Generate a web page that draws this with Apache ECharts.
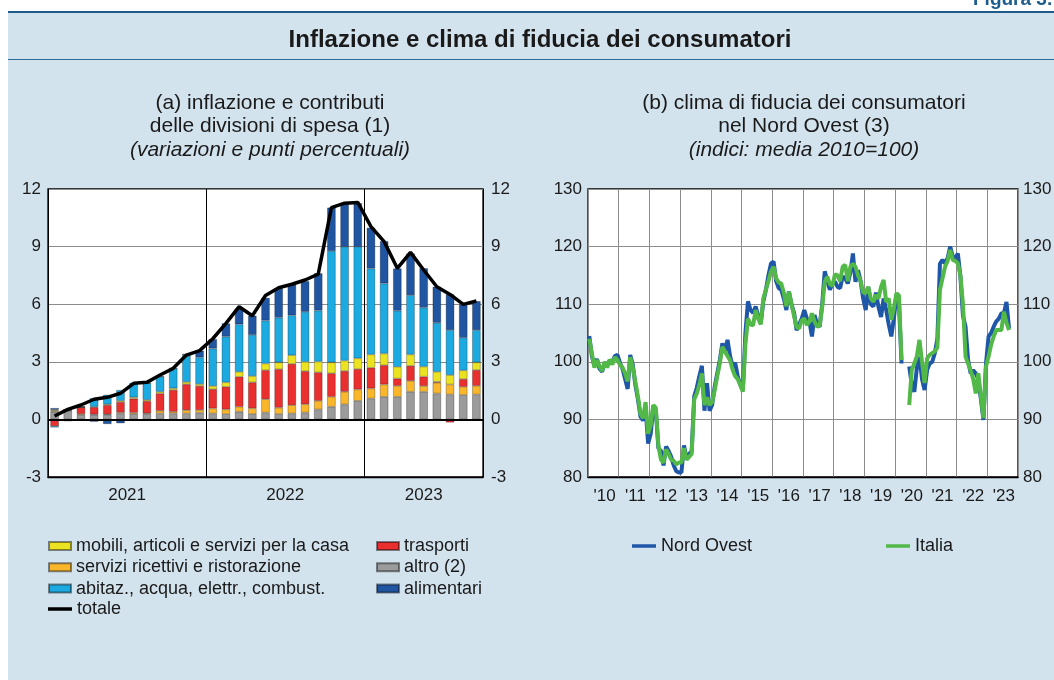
<!DOCTYPE html>
<html>
<head>
<meta charset="utf-8">
<script src="https://cdn.jsdelivr.net/npm/echarts@6/dist/echarts.min.js"></script>
<style>
  html, body { margin: 0; padding: 0; background: #fff; }
  #panel { position: absolute; left: 8px; top: 11px; width: 1046px; height: 669px; background: #d3e3ee; border-top: 2px solid #1d5b8c; box-sizing: border-box; }
  #rule { position: absolute; left: 8px; top: 59px; width: 1046px; height: 1px; background: #2b6b98; }
  #chart { position: absolute; left: 0; top: 0; width: 1054px; height: 680px; }
</style>
</head>
<body>
<div id="panel"></div>
<div id="rule"></div>
<div id="chart"></div>
<script>
// (a) contributions by spending division, Jan 2021 - Sep 2023
const monthsA = [
  "2021-01", "2021-02", "2021-03", "2021-04", "2021-05", "2021-06", "2021-07", "2021-08", "2021-09", "2021-10", "2021-11", "2021-12",
  "2022-01", "2022-02", "2022-03", "2022-04", "2022-05", "2022-06", "2022-07", "2022-08", "2022-09", "2022-10", "2022-11", "2022-12",
  "2023-01", "2023-02", "2023-03", "2023-04", "2023-05", "2023-06", "2023-07", "2023-08", "2023-09"
];
const altro = [
  0.40, 0.45, 0.23, 0.23, 0.24, 0.31, 0.28, 0.28, 0.31, 0.31, 0.31, 0.35,
  0.31, 0.28, 0.40, 0.28, 0.36, 0.28, 0.31, 0.36, 0.52, 0.66, 0.78, 0.97,
  1.09, 1.18, 1.18, 1.44, 1.44, 1.35, 1.30, 1.27, 1.30
];
const servizi = [
  0.05, 0.03, 0.05, 0.03, 0.03, 0.05, 0.07, 0.04, 0.14, 0.09, 0.17, 0.14,
  0.26, 0.24, 0.26, 0.30, 0.69, 0.33, 0.43, 0.43, 0.45, 0.52, 0.66, 0.59,
  0.52, 0.64, 0.57, 0.57, 0.30, 0.56, 0.52, 0.43, 0.45
];
const trasporti = [
  -0.35, 0.03, 0.35, 0.37, 0.47, 0.54, 0.73, 0.63, 0.90, 1.13, 1.35, 1.25,
  1.00, 1.18, 1.56, 1.35, 1.51, 2.00, 2.15, 1.72, 1.48, 1.22, 1.08, 1.06,
  1.08, 1.00, 0.38, 0.78, 0.49, 0.05, -0.16, 0.40, 0.82
];
const mobili = [
  0.05, 0.00, 0.02, 0.03, 0.05, 0.07, 0.07, 0.07, 0.09, 0.09, 0.12, 0.10,
  0.17, 0.23, 0.26, 0.33, 0.35, 0.36, 0.45, 0.49, 0.56, 0.57, 0.54, 0.56,
  0.69, 0.61, 0.61, 0.59, 0.52, 0.52, 0.49, 0.45, 0.40
];
const abitazione = [
  -0.07, 0.00, 0.00, 0.45, 0.49, 0.56, 0.76, 0.87, 0.78, 1.04, 1.44, 1.39,
  1.95, 2.38, 2.47, 2.14, 2.24, 2.33, 2.08, 2.60, 2.66, 5.80, 5.94, 5.82,
  4.48, 3.65, 2.92, 3.09, 3.07, 2.55, 2.34, 1.70, 1.68
];
const alimentari = [
  0.09, -0.10, 0.00, -0.12, -0.24, -0.20, -0.07, 0.00, 0.05, 0.00, 0.00, 0.35,
  0.49, 0.69, 0.83, 1.00, 1.18, 1.53, 1.60, 1.60, 1.94, 2.26, 2.20, 2.26,
  2.12, 2.20, 2.20, 2.17, 2.05, 1.88, 1.86, 1.74, 1.51
];
const totale = [
  0.18, 0.52, 0.75, 1.05, 1.15, 1.36, 1.88, 1.93, 2.31, 2.66, 3.35, 3.58,
  4.20, 5.00, 5.87, 5.40, 6.45, 6.86, 7.04, 7.26, 7.57, 11.03, 11.26, 11.30,
  10.04, 9.26, 7.87, 8.70, 7.78, 6.91, 6.51, 5.99, 6.17
];
// year labels of panel (a), placed at the middle of each year's span (in months from Jan 2021)
const yearLabelsA = ["2021", "2022", "2023"];
const yearLabelPosA = [6, 18, 28.5];

// (b) consumer confidence, Jan 2010 - Sep 2023 (Apr-May 2020 not surveyed)
const yearLabelsB = ["'10", "'11", "'12", "'13", "'14", "'15", "'16", "'17", "'18", "'19", "'20", "'21", "'22", "'23"];
const monthNames = ["01", "02", "03", "04", "05", "06", "07", "08", "09", "10", "11", "12"];
const monthsB = yearLabelsB.flatMap((y) => monthNames.map((m) => y + " " + m));
const nordOvest = [
  104.5, 101.0, 99.3, 100.5, 98.8, 98.3, 99.8, 99.5, 100.2, 100.0, 101.0, 101.2,
  99.8, 98.8, 97.0, 95.3, 101.2, 99.5, 96.0, 93.5, 90.5, 89.8, 92.0, 85.8,
  87.5, 92.2, 91.5, 85.0, 84.5, 82.0, 85.3, 84.5, 83.5, 82.0, 81.0, 80.8,
  80.8, 85.5, 83.2, 84.0, 84.5, 94.0, 95.5, 97.5, 99.3, 91.5, 96.3, 91.5,
  92.5, 95.7, 98.0, 100.3, 103.2, 101.8, 103.8, 101.0, 99.2, 99.8, 97.5, 96.0,
  95.1, 105.0, 110.5, 109.0, 108.5, 109.6, 108.0, 106.7, 110.5, 112.5, 115.0, 117.1,
  117.4, 114.0, 112.8, 112.5, 111.0, 109.0, 112.2, 110.0, 108.5, 105.5, 106.5, 107.5,
  109.0, 107.5, 107.0, 104.4, 108.1, 106.5, 106.1, 110.0, 115.7, 114.0, 112.5, 113.5,
  113.9, 113.0, 112.8, 114.8, 114.5, 113.6, 115.5, 118.8, 113.9, 115.9, 114.0, 111.0,
  109.0, 113.0, 110.0, 109.6, 112.0, 109.5, 107.8, 111.0, 109.0, 106.5, 104.4, 107.5,
  111.6, 110.0, 99.7, null, null, 99.2, 96.0, 94.8, 99.0, 100.9, 97.0, 95.1,
  98.6, 99.7, 100.0, 101.5, 104.0, 117.0, 117.7, 117.1, 118.0, 120.0, 118.3, 118.0,
  118.8, 114.8, 108.0, 106.1, 100.3, 98.0, 98.5, 98.0, 97.0, 93.5, 89.9, 99.7,
  104.4, 105.0, 106.1, 107.0, 107.5, 108.4, 108.5, 110.4, 105.8
];
const italia = [
  104.0, 101.5, 99.0, 100.3, 99.2, 98.4, 100.0, 99.0, 100.4, 99.5, 100.8, 100.3,
  99.5, 99.0, 98.0, 96.6, 100.8, 99.0, 96.5, 94.0, 91.0, 90.2, 93.0, 87.5,
  89.0, 92.5, 92.0, 85.5, 83.0, 82.5, 84.8, 84.0, 83.0, 82.8, 82.2, 82.5,
  82.5, 85.0, 83.0, 83.5, 84.0, 93.5, 94.5, 96.0, 98.0, 92.5, 93.8, 92.5,
  93.0, 95.1, 97.5, 99.7, 102.6, 101.8, 101.0, 100.3, 98.6, 97.5, 97.0, 96.0,
  94.8, 103.0, 107.5, 106.5, 106.3, 109.0, 107.5, 106.5, 111.0, 112.5, 114.0, 115.7,
  116.5, 114.5, 113.8, 113.6, 112.0, 109.6, 112.2, 110.0, 108.0, 106.0, 105.8, 107.2,
  107.5, 106.4, 107.0, 108.4, 107.0, 106.1, 106.3, 109.5, 113.9, 114.8, 113.5, 113.2,
  115.2, 115.0, 114.0, 116.5, 116.8, 114.0, 116.5, 117.0, 116.5, 115.0, 114.0, 112.0,
  112.0, 113.0, 111.0, 110.4, 111.6, 111.0, 113.0, 114.2, 110.4, 111.0, 107.3, 109.3,
  111.9, 111.5, 100.3, null, null, 92.5, 98.6, 99.7, 101.0, 103.8, 100.0, 96.3,
  100.6, 101.2, 101.5, 101.8, 102.5, 112.5, 114.5, 116.5, 117.5, 119.4, 117.7, 117.5,
  117.1, 115.0, 110.0, 100.9, 99.7, 98.5, 97.0, 94.5, 98.0, 94.0, 90.2, 99.2,
  100.9, 103.0, 104.4, 105.5, 105.5, 105.5, 108.7, 106.8, 105.5
];

const FONT = "'Liberation Sans', Arial, Helvetica, sans-serif";
const TEXT = "#1a1a1a";
const GRIDLINE = "#8c8c8c";

const chart = echarts.init(document.getElementById("chart"), null, { renderer: "canvas" });

function stackBar(name, data, color) {
  return {
    name,
    type: "bar",
    stack: "contributi",
    xAxisIndex: 0,
    yAxisIndex: 0,
    data,
    barWidth: "64%",
    itemStyle: { color, borderColor: "rgba(0,0,0,0.45)", borderWidth: 0.6 },
  };
}

const valueLabel = { fontSize: 17, color: TEXT, fontFamily: FONT };
const legendText = { fontSize: 18, color: TEXT, fontFamily: FONT, lineHeight: 18 };
const subtitleText = { fontSize: 21, fontWeight: "normal", color: TEXT, lineHeight: 23.5, fontFamily: FONT };
const subtitleItalic = { fontSize: 21, fontStyle: "italic", color: TEXT, lineHeight: 23.5, fontFamily: FONT };

// bar legends: plain rectangles; line legends: thin bars, one legend per block
const barLegend = (left, names) => ({
  orient: "vertical",
  left,
  top: 532,
  icon: "rect",
  itemWidth: 22,
  itemHeight: 8,
  itemGap: 3.3,
  textStyle: legendText,
  data: names,
});
const lineLegend = (left, top, name) => ({
  left,
  top,
  icon: "rect",
  itemWidth: 24,
  itemHeight: 3.5,
  itemStyle: { borderWidth: 0 },
  textStyle: legendText,
  data: [name],
});

const option = {
  animation: false,
  backgroundColor: "transparent",
  textStyle: { fontFamily: FONT },
  title: [
    {
      text: "Figura 3.",
      left: 968,
      top: -15,
      textStyle: { fontSize: 19, fontWeight: "bold", color: "#1d5b8c", fontFamily: FONT },
    },
    {
      text: "Inflazione e clima di fiducia dei consumatori",
      left: 535,
      top: 21,
      textAlign: "center",
      textStyle: { fontSize: 24, fontWeight: "bold", color: TEXT, lineHeight: 28, fontFamily: FONT },
    },
    {
      text: "(a) inflazione e contributi\ndelle divisioni di spesa (1)",
      subtext: "(variazioni e punti percentuali)",
      left: 265,
      top: 86,
      textAlign: "center",
      itemGap: 0,
      textStyle: subtitleText,
      subtextStyle: subtitleItalic,
    },
    {
      text: "(b) clima di fiducia dei consumatori\nnel Nord Ovest (3)",
      subtext: "(indici: media 2010=100)",
      left: 799,
      top: 86,
      textAlign: "center",
      itemGap: 0,
      textStyle: subtitleText,
      subtextStyle: subtitleItalic,
    },
  ],
  legend: [
    barLegend(43, [
      "mobili, articoli e servizi per la casa",
      "servizi ricettivi e ristorazione",
      "abitaz., acqua, elettr., combust.",
    ]),
    barLegend(371, ["trasporti", "altro (2)", "alimentari"]),
    lineLegend(43, 595, "totale"),
    lineLegend(627, 532, "Nord Ovest"),
    lineLegend(881, 532, "Italia"),
  ],
  grid: [
    {
      left: 48, top: 189, width: 435, height: 288,
      show: true, backgroundColor: "#fff", borderColor: "#000", borderWidth: 1.3,
      outerBoundsMode: "none",
    },
    {
      left: 588, top: 189, width: 430, height: 288,
      show: true, backgroundColor: "#fff", borderColor: "#000", borderWidth: 1.3,
      outerBoundsMode: "none",
    },
  ],
  xAxis: [
    {
      type: "category",
      gridIndex: 0,
      data: monthsA,
      boundaryGap: true,
      axisLine: { onZero: false, lineStyle: { color: "#000", width: 1.3 } },
      axisTick: { inside: true, length: 5, interval: 0, lineStyle: { color: "#333" } },
      axisLabel: { show: false },
      splitLine: { show: false },
    },
    {
      type: "value",
      gridIndex: 0,
      min: 0,
      max: 33,
      interval: 12,
      position: "bottom",
      axisLine: { show: false },
      axisTick: { show: false },
      splitLine: { show: true, lineStyle: { color: "#000", width: 1 } },
      axisLabel: {
        ...valueLabel,
        margin: 10,
        customValues: yearLabelPosA,
        formatter: (v) => {
          const i = yearLabelPosA.indexOf(v);
          return i >= 0 ? yearLabelsA[i] : "";
        },
      },
    },
    {
      type: "category",
      gridIndex: 1,
      data: monthsB,
      boundaryGap: true,
      axisLine: { onZero: false, lineStyle: { color: "#000", width: 1.3 } },
      axisTick: { inside: true, length: 4, interval: 0, lineStyle: { color: "#555" } },
      axisLabel: {
        ...valueLabel,
        margin: 11,
        interval: (i) => i % 12 === 6,
        formatter: (v) => v.split(" ")[0],
      },
      splitLine: { show: true, interval: (i) => i % 12 === 0, lineStyle: { color: GRIDLINE, width: 1 } },
    },
  ],
  yAxis: [
    {
      type: "value", gridIndex: 0, min: -3, max: 12, interval: 3, position: "left",
      axisLine: { show: false }, axisTick: { show: false },
      axisLabel: { ...valueLabel, margin: 7 },
      splitLine: { lineStyle: { color: GRIDLINE, width: 1 } },
    },
    {
      type: "value", gridIndex: 0, min: -3, max: 12, interval: 3, position: "right",
      axisLine: { show: false }, axisTick: { show: false },
      axisLabel: { ...valueLabel, margin: 8 },
      splitLine: { show: false },
    },
    {
      type: "value", gridIndex: 1, min: 80, max: 130, interval: 10, position: "left",
      axisLine: { show: false }, axisTick: { show: false },
      axisLabel: { ...valueLabel, margin: 6 },
      splitLine: { lineStyle: { color: GRIDLINE, width: 1 } },
    },
    {
      type: "value", gridIndex: 1, min: 80, max: 130, interval: 10, position: "right",
      axisLine: { show: false }, axisTick: { show: false },
      axisLabel: { ...valueLabel, margin: 5 },
      splitLine: { show: false },
    },
  ],
  series: [
    // stacked from the bottom: altro, servizi, trasporti, mobili, abitazione, alimentari
    stackBar("altro (2)", altro, "#9b9b9b"),
    stackBar("servizi ricettivi e ristorazione", servizi, "#fbb72b"),
    stackBar("trasporti", trasporti, "#ea2f2f"),
    stackBar("mobili, articoli e servizi per la casa", mobili, "#ebe322"),
    stackBar("abitaz., acqua, elettr., combust.", abitazione, "#1caae1"),
    stackBar("alimentari", alimentari, "#1f55a1"),
    {
      name: "totale",
      type: "line",
      xAxisIndex: 0,
      yAxisIndex: 0,
      data: totale,
      symbol: "none",
      z: 5,
      lineStyle: { color: "#000", width: 3.5 },
      itemStyle: { color: "#000" },
      markLine: {
        silent: true,
        symbol: "none",
        label: { show: false },
        lineStyle: { color: "#000", width: 2, type: "solid" },
        data: [{ yAxis: 0 }],
      },
    },
    {
      name: "Nord Ovest",
      type: "line",
      xAxisIndex: 2,
      yAxisIndex: 2,
      data: nordOvest,
      symbol: "none",
      connectNulls: false,
      lineStyle: { color: "#1f57a8", width: 4 },
      itemStyle: { color: "#1f57a8" },
    },
    {
      name: "Italia",
      type: "line",
      xAxisIndex: 2,
      yAxisIndex: 2,
      data: italia,
      symbol: "none",
      connectNulls: false,
      lineStyle: { color: "#52b847", width: 4 },
      itemStyle: { color: "#52b847" },
    },
  ],
};

chart.setOption(option);
</script>
</body>
</html>
